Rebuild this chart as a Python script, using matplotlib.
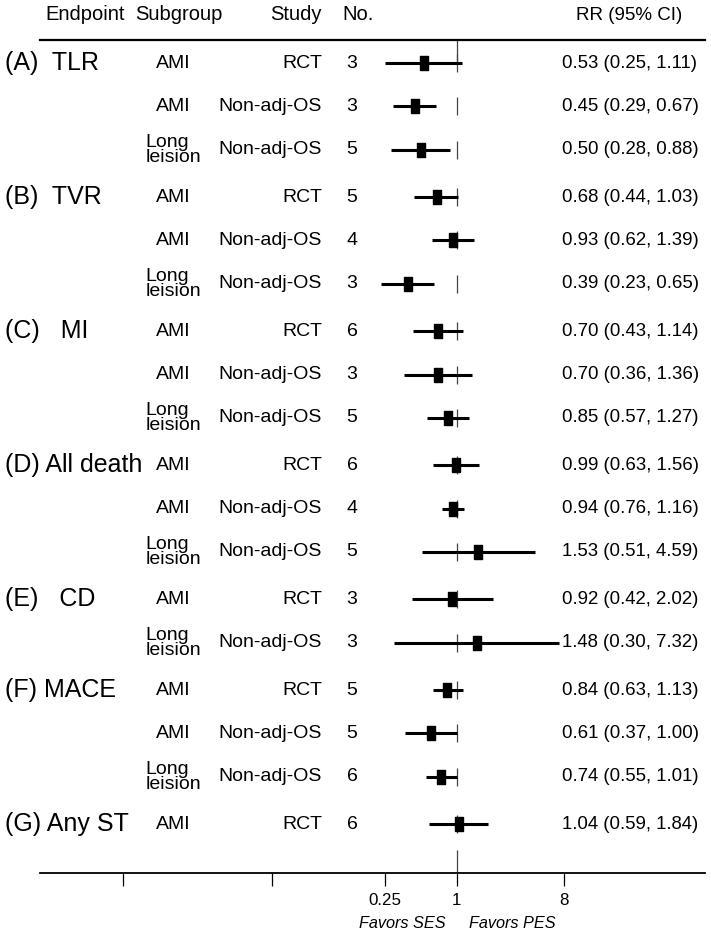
# =============================================================
# forest plot: SES vs PES, subgroup meta-analysis
# =============================================================

import matplotlib
matplotlib.use("Agg")
import matplotlib.pyplot as plt
import matplotlib.transforms as mtransforms
import numpy as np

plt.rcParams['font.family'] = ['Liberation Sans', 'DejaVu Sans']

# =============================================================
# DATA
# =============================================================
endpoints     = ['(A)  TLR', '(B)  TVR', '(C)   MI', '(D) All death',
                 '(E)   CD', '(F) MACE', '(G) Any ST']
group_sizes   = [3, 3, 3, 3, 2, 3, 1]

subgroups = ['AMI', 'AMI', 'Long\nleision',
             'AMI', 'AMI', 'Long\nleision',
             'AMI', 'AMI', 'Long\nleision',
             'AMI', 'AMI', 'Long\nleision',
             'AMI', 'Long\nleision',
             'AMI', 'AMI', 'Long\nleision',
             'AMI']
studies = ['RCT', 'Non-adj-OS', 'Non-adj-OS',
           'RCT', 'Non-adj-OS', 'Non-adj-OS',
           'RCT', 'Non-adj-OS', 'Non-adj-OS',
           'RCT', 'Non-adj-OS', 'Non-adj-OS',
           'RCT', 'Non-adj-OS',
           'RCT', 'Non-adj-OS', 'Non-adj-OS',
           'RCT']
n_studies = [3, 3, 5, 5, 4, 3, 6, 3, 5, 6, 4, 5, 3, 3, 5, 5, 6, 6]
rr        = [0.53, 0.45, 0.50, 0.68, 0.93, 0.39, 0.70, 0.70, 0.85,
             0.99, 0.94, 1.53, 0.92, 1.48, 0.84, 0.61, 0.74, 1.04]
ci_low    = [0.25, 0.29, 0.28, 0.44, 0.62, 0.23, 0.43, 0.36, 0.57,
             0.63, 0.76, 0.51, 0.42, 0.30, 0.63, 0.37, 0.55, 0.59]
ci_high   = [1.11, 0.67, 0.88, 1.03, 1.39, 0.65, 1.14, 1.36, 1.27,
             1.56, 1.16, 4.59, 2.02, 7.32, 1.13, 1.00, 1.01, 1.84]

tick_values = [0.25, 1, 8]
tick_labels = ['0.25', '1', '8']

# =============================================================
# LAYOUT (pixels of a 711x935 image, y measured from the top)
# =============================================================
W, H = 711, 935
FIRST_ROW = 63
ROW_STEP  = 43.3    # rows inside one endpoint
GROUP_GAP = 47.5    # step between endpoints
AXIS_Y    = 873
X_LEFT, X_RIGHT = 40, 705
PX_ONE, PX_PER_LOG2 = 456.5, 35.8   # where RR=1 sits, px per doubling

# row centres
row_y = []
group_first = []
y = FIRST_ROW
for g, size in enumerate(group_sizes):
    if g > 0:
        y += GROUP_GAP - ROW_STEP
    group_first.append(y)
    for k in range(size):
        row_y.append(y)
        y += ROW_STEP
row_y = np.array(row_y)

fig = plt.figure(figsize=(W / 100, H / 100), dpi=100)
ax = fig.add_axes([X_LEFT / W, (H - AXIS_Y) / H,
                   (X_RIGHT - X_LEFT) / W, AXIS_Y / H])
ax.set_xscale('log', base=2)
ax.set_xlim(2 ** ((X_LEFT - PX_ONE) / PX_PER_LOG2),
            2 ** ((X_RIGHT - PX_ONE) / PX_PER_LOG2))
ax.set_ylim(AXIS_Y, 0)

# x in figure pixels, y in data (=pixels from top)
tr = mtransforms.blended_transform_factory(
    mtransforms.Affine2D().scale(1 / W, 1) + fig.transFigure, ax.transData)

# =============================================================
# HEADER
# =============================================================
hdr = dict(transform=tr, fontsize=14.5, va='center', clip_on=False)
ax.text(45, 15, 'Endpoint', ha='left', **hdr)
ax.text(135, 15, 'Subgroup', ha='left', **hdr)
ax.text(322, 15, 'Study', ha='right', **hdr)
ax.text(342, 15, 'No.', ha='left', **hdr)
ax.text(682, 15, 'RR (95% CI)', ha='right', transform=tr, fontsize=13.5,
        va='center')
ax.plot([X_LEFT, X_RIGHT], [40, 40], transform=tr, color='black', lw=1.6,
        clip_on=False)

# =============================================================
# TEXT COLUMNS
# =============================================================
for name, y0 in zip(endpoints, group_first):
    ax.text(5, y0, name, transform=tr, fontsize=18, ha='left', va='center')

for i, y0 in enumerate(row_y):
    ax.text(173, y0, subgroups[i], transform=tr, fontsize=14, ha='center',
            va='center', multialignment='left', linespacing=0.85)
    ax.text(322, y0, studies[i], transform=tr, fontsize=14, ha='right',
            va='center')
    ax.text(352, y0, str(n_studies[i]), transform=tr, fontsize=14,
            ha='center', va='center')
    ax.text(562, y0, f"{rr[i]:.2f} ({ci_low[i]:.2f}, {ci_high[i]:.2f})",
            transform=tr, fontsize=13.4, ha='left', va='center')

# =============================================================
# FOREST MARKS
# =============================================================
# reference line at RR = 1, drawn as short pieces per row
ones = np.ones(len(row_y))
ax.vlines(ones, row_y - 9, row_y + 9, color='#444444', lw=0.9, zorder=1)
ax.vlines(1, 40, FIRST_ROW, color='#444444', lw=0.9, zorder=1)
ax.vlines(1, 850, AXIS_Y, color='#444444', lw=0.9, zorder=1)

ax.hlines(row_y, ci_low, ci_high, color='black', lw=2.2, zorder=2)
box = [(-0.55, -1), (0.55, -1), (0.55, 1), (-0.55, 1), (-0.55, -1)]
ax.plot(rr, row_y, linestyle='none', marker=box, markersize=9.5,
        color='black', zorder=3)

# =============================================================
# BOTTOM AXIS
# =============================================================
for s in ['top', 'left', 'right']:
    ax.spines[s].set_visible(False)
ax.spines['bottom'].set_linewidth(1.3)
ax.set_yticks([])
blank_ticks = [2 ** ((123 - PX_ONE) / PX_PER_LOG2),
               2 ** ((272 - PX_ONE) / PX_PER_LOG2)]
ax.set_xticks(blank_ticks + tick_values)
ax.set_xticklabels(['', ''] + tick_labels)
ax.minorticks_off()
ax.tick_params(axis='x', direction='out', length=9.5, width=0.9,
               pad=5, labelsize=12.2)

ax.annotate('Favors SES', xy=(1, 923), xytext=(-8, 0),
            textcoords='offset points', ha='right', va='center',
            fontsize=11.7, style='italic', annotation_clip=False)
ax.annotate('Favors PES', xy=(1, 923), xytext=(9, 0),
            textcoords='offset points', ha='left', va='center',
            fontsize=11.7, style='italic', annotation_clip=False)

plt.savefig('out.png', dpi=100)
